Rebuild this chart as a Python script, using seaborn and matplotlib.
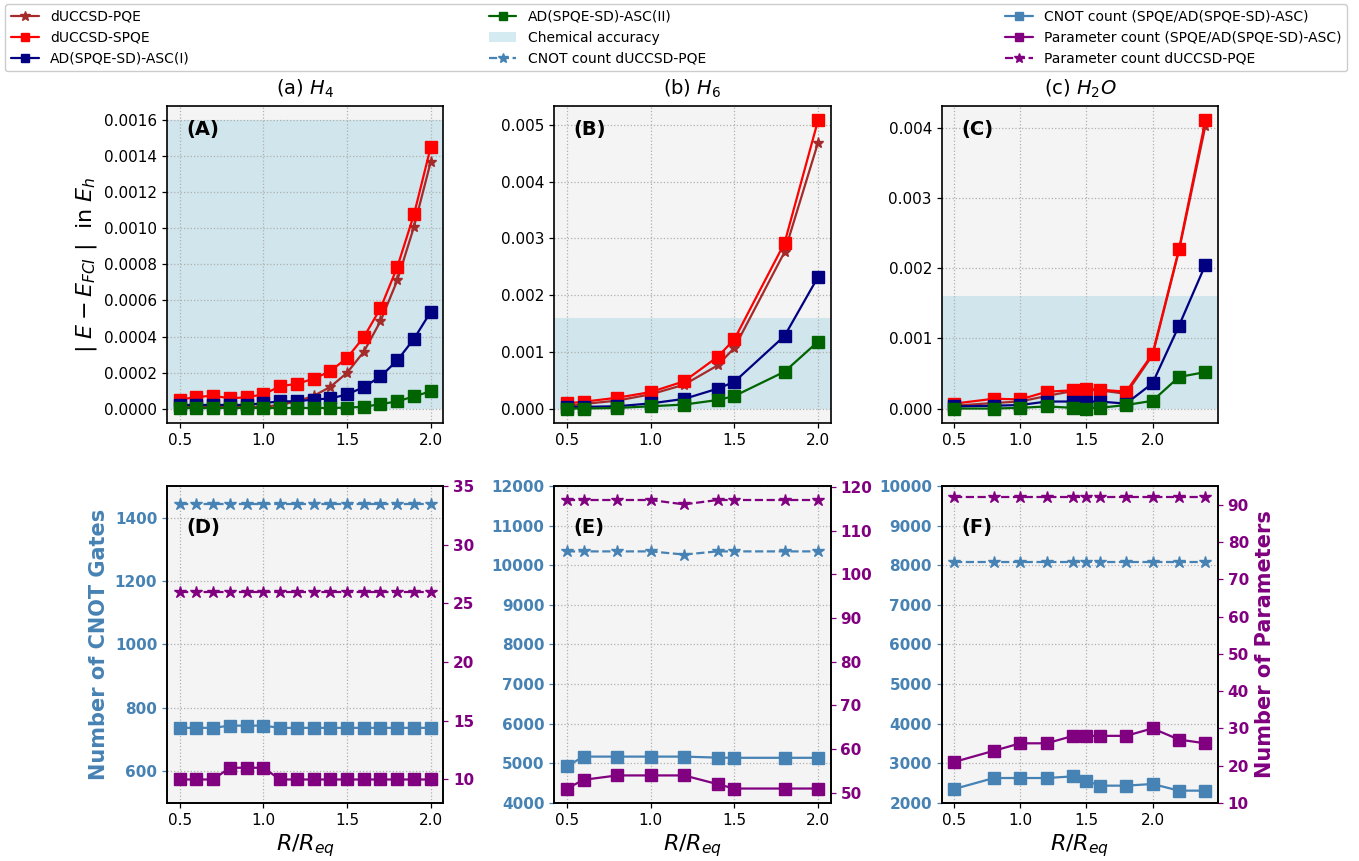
import matplotlib
matplotlib.use("Agg")
import matplotlib.pyplot as plt
import seaborn as sns
import numpy as np
from matplotlib.lines import Line2D
from matplotlib.patches import Patch

# ---------------- data ----------------
x_h4 = [0.5, 0.6, 0.7, 0.8, 0.9, 1.0, 1.1, 1.2, 1.3, 1.4, 1.5, 1.6, 1.7, 1.8, 1.9, 2.0]
h4_pqe = [0.00001, 0.00001, 0.00001, 0.00001, 0.00001, 0.00001, 0.00002, 0.00004,
          0.00007, 0.00012, 0.000198, 0.000315, 0.000485, 0.000711, 0.001009, 0.00137]
h4_spqe = [0.00005, 0.000063, 0.000072, 0.000056, 0.000063, 0.000078, 0.000124, 0.000137,
           0.000165, 0.000207, 0.000281, 0.000396, 0.000557, 0.000785, 0.001078, 0.001452]
h4_asc1 = [0.00002, 0.00002, 0.00002, 0.00002, 0.00002, 0.00003, 0.00004, 0.00004,
           0.00005, 0.000056, 0.000078, 0.000119, 0.000178, 0.000267, 0.000387, 0.000537]
h4_asc2 = [0.000003, 0.000003, 0.000003, 0.000003, 0.000003, 0.000003, 0.000003, 0.000003,
           0.000003, 0.000003, 0.000005, 0.00001, 0.000024, 0.00004, 0.000067, 0.000096]

x_h6 = [0.5, 0.6, 0.8, 1.0, 1.2, 1.4, 1.5, 1.8, 2.0]
h6_pqe = [0.00005, 0.00008, 0.00014, 0.00025, 0.00042, 0.00076, 0.00107, 0.00276, 0.00469]
h6_spqe = [0.00009, 0.00012, 0.00019, 0.00029, 0.00048, 0.00091, 0.00122, 0.00292, 0.00508]
h6_asc1 = [0.00003, 0.00003, 0.00004, 0.00009, 0.00017, 0.00035, 0.00047, 0.00128, 0.00232]
h6_asc2 = [0.0, 0.0, 0.00001, 0.00004, 0.00007, 0.00015, 0.00022, 0.00065, 0.00118]

x_h2o = [0.5, 0.8, 1.0, 1.2, 1.4, 1.5, 1.6, 1.8, 2.0, 2.2, 2.4]
h2o_pqe = [0.00004, 0.00008, 0.0001, 0.00018, 0.00025, 0.00027, 0.00026, 0.00021, 0.00076, 0.00225, 0.00403]
h2o_spqe = [0.00007, 0.00014, 0.00013, 0.00024, 0.00026, 0.00028, 0.00027, 0.00024, 0.00078, 0.00227, 0.00411]
h2o_asc1 = [0.00003, 0.00004, 0.00005, 0.0001, 0.0001, 0.0001, 0.0001, 0.00007, 0.00036, 0.00118, 0.00205]
h2o_asc2 = [0.0, 0.0, 0.00001, 0.00003, 0.00001, 0.0, 0.00001, 0.00005, 0.00011, 0.00045, 0.00052]

chem_acc = 0.0016

h4_cnot_pqe = [1442, 1442, 1442, 1442, 1442, 1442, 1442, 1442, 1442, 1442, 1442, 1442, 1442, 1442, 1442, 1442]
h4_cnot_spqe = [737, 737, 737, 744, 744, 744, 737, 737, 737, 737, 737, 737, 737, 737, 737, 737]
h4_par_pqe = [26, 26, 26, 26, 26, 26, 26, 26, 26, 26, 26, 26, 26, 26, 26, 26]
h4_par_spqe = [10, 10, 10, 11, 11, 11, 10, 10, 10, 10, 10, 10, 10, 10, 10, 10]

h6_cnot_pqe = [10350, 10350, 10350, 10350, 10270, 10350, 10350, 10350, 10350]
h6_cnot_spqe = [4930, 5170, 5170, 5170, 5170, 5145, 5140, 5140, 5140]
h6_par_pqe = [117, 117, 117, 117, 116, 117, 117, 117, 117]
h6_par_spqe = [51, 53, 54, 54, 54, 52, 51, 51, 51]

h2o_cnot_pqe = [8070, 8070, 8070, 8070, 8070, 8070, 8070, 8070, 8070, 8070, 8070]
h2o_cnot_spqe = [2353, 2630, 2630, 2630, 2672, 2563, 2437, 2437, 2479, 2311, 2311]
h2o_par_pqe = [92, 92, 92, 92, 92, 92, 92, 92, 92, 92, 92]
h2o_par_spqe = [21, 24, 26, 26, 28, 28, 28, 28, 30, 27, 26]

titles = ["(a) $H_4$", "(b) $H_6$", "(c) $H_2O$"]
top_tags = ["(A)", "(B)", "(C)"]
bot_tags = ["(D)", "(E)", "(F)"]

# ---------------- style ----------------
sns.set_theme(style="ticks")
plt.rcParams["font.family"] = ["DejaVu Sans"]
plt.rcParams.update({
    "axes.facecolor": "#f4f4f4",
    "axes.edgecolor": "black",
    "axes.linewidth": 1.2,
    "text.color": "black",
    "axes.labelcolor": "black",
    "xtick.color": "black",
    "ytick.color": "black",
    "xtick.labelsize": 11,
    "ytick.labelsize": 11,
    "xtick.major.size": 3.5,
    "ytick.major.size": 3.5,
    "xtick.major.width": 0.9,
    "ytick.major.width": 0.9,
    "xtick.major.pad": 3.5,
    "ytick.major.pad": 3.5,
})

C_PQE = "brown"
C_SPQE = "red"
C_ASC1 = "navy"
C_ASC2 = "darkgreen"
C_CNOT = "steelblue"
C_PAR = "purple"
C_CHEM = "lightblue"

fig, axes = plt.subplots(2, 3, figsize=(13.59, 8.61), dpi=100)
fig.subplots_adjust(left=0.1229, right=0.8962, top=0.8769, bottom=0.0674,
                    wspace=0.402, hspace=0.199)


def line(ax, x, y, color, marker, ls="-", ms=7, lw=1.6):
    sns.lineplot(x=x, y=y, ax=ax, color=color, marker=marker, linestyle=ls,
                 markersize=ms, linewidth=lw, mec=color, mew=1, legend=False)


top_data = [
    (x_h4, h4_pqe, h4_spqe, h4_asc1, h4_asc2),
    (x_h6, h6_pqe, h6_spqe, h6_asc1, h6_asc2),
    (x_h2o, h2o_pqe, h2o_spqe, h2o_asc1, h2o_asc2),
]
for i, (x, pqe, spqe, a1, a2) in enumerate(top_data):
    ax = axes[0, i]
    ax.axhspan(0, chem_acc, color=C_CHEM, alpha=0.5, lw=0, zorder=0)
    line(ax, x, pqe, C_PQE, "*", ms=8)
    line(ax, x, spqe, C_SPQE, "s", ms=8)
    line(ax, x, a1, C_ASC1, "s", ms=8)
    line(ax, x, a2, C_ASC2, "s", ms=8)
    ax.set_title(titles[i], fontsize=14, pad=8)
    ax.grid(True, linestyle=":", color="#b0b0b0", linewidth=0.9)
    ax.text(0.07, 0.955, top_tags[i], transform=ax.transAxes, fontsize=14,
            fontweight="bold", va="top", ha="left")
    ax.set_xticks([0.5, 1.0, 1.5, 2.0])
    ax.set_xlabel("")
    ax.set_ylabel("")

axes[0, 0].set_ylim(-0.00008, 0.00168)
axes[0, 0].set_yticks(np.arange(0, 0.00161, 0.0002))
axes[0, 0].yaxis.set_major_formatter(matplotlib.ticker.FormatStrFormatter("%.4f"))
axes[0, 1].set_yticks([0, 0.001, 0.002, 0.003, 0.004, 0.005])
axes[0, 1].yaxis.set_major_formatter(matplotlib.ticker.FormatStrFormatter("%.3f"))
axes[0, 2].set_yticks([0, 0.001, 0.002, 0.003, 0.004])
axes[0, 2].yaxis.set_major_formatter(matplotlib.ticker.FormatStrFormatter("%.3f"))
axes[0, 0].set_ylabel(r"$|\ E - E_{FCI}\ |$  in $E_h$", fontsize=16)

bot_data = [
    (x_h4, h4_cnot_pqe, h4_cnot_spqe, h4_par_pqe, h4_par_spqe,
     (500, 1500), [600, 800, 1000, 1200, 1400], (8, 35), [10, 15, 20, 25, 30, 35]),
    (x_h6, h6_cnot_pqe, h6_cnot_spqe, h6_par_pqe, h6_par_spqe,
     (4000, 12000), list(range(4000, 12001, 1000)), (47.7, 120.2), list(range(50, 121, 10))),
    (x_h2o, h2o_cnot_pqe, h2o_cnot_spqe, h2o_par_pqe, h2o_par_spqe,
     (2000, 10000), list(range(2000, 10001, 1000)), (10, 95), list(range(10, 91, 10))),
]
for i, (x, cp, cs, pp, ps, ylim, yt, ylim2, yt2) in enumerate(bot_data):
    ax = axes[1, i]
    ax2 = ax.twinx()
    line(ax, x, cp, C_CNOT, "*", ls="--", ms=9)
    line(ax, x, cs, C_CNOT, "s", ms=8)
    line(ax2, x, pp, C_PAR, "*", ls="--", ms=9)
    line(ax2, x, ps, C_PAR, "s", ms=8)
    ax.set_ylim(*ylim)
    ax.set_yticks(yt)
    ax2.set_ylim(*ylim2)
    ax2.set_yticks(yt2)
    ax.set_xticks([0.5, 1.0, 1.5, 2.0])
    ax.grid(True, linestyle=":", color="#b0b0b0", linewidth=0.9)
    ax.tick_params(axis="y", colors=C_CNOT, labelcolor=C_CNOT)
    ax2.tick_params(axis="y", colors=C_PAR, labelcolor=C_PAR)
    for lab in ax.get_yticklabels():
        lab.set_fontweight("bold")
    for lab in ax2.get_yticklabels():
        lab.set_fontweight("bold")
    for sp in ax2.spines.values():
        sp.set_color("black")
    ax.set_ylabel("")
    ax2.set_ylabel("")
    ax.set_xlabel(r"$R/R_{eq}$", fontsize=16, labelpad=3)
    ax.text(0.07, 0.9, bot_tags[i], transform=ax.transAxes, fontsize=14,
            fontweight="bold", va="top", ha="left", zorder=5)
    if i == 0:
        ax.set_ylabel("Number of CNOT Gates", fontsize=15, fontweight="bold",
                      color=C_CNOT)
    if i == 2:
        ax2.set_ylabel("Number of Parameters", fontsize=15, fontweight="bold",
                       color=C_PAR)

# ---------------- legend ----------------
LMS = 6
handles = [
    Line2D([], [], color=C_PQE, marker="*", ms=LMS + 1, lw=1.6),
    Line2D([], [], color=C_SPQE, marker="s", ms=LMS, lw=1.6),
    Line2D([], [], color=C_ASC1, marker="s", ms=LMS, lw=1.6),
    Line2D([], [], color=C_ASC2, marker="s", ms=LMS, lw=1.6),
    Patch(facecolor=C_CHEM, alpha=0.5, edgecolor="none"),
    Line2D([], [], color=C_CNOT, marker="*", ms=LMS + 1, lw=1.6, ls="--"),
    Line2D([], [], color=C_CNOT, marker="s", ms=LMS, lw=1.6),
    Line2D([], [], color=C_PAR, marker="s", ms=LMS, lw=1.6),
    Line2D([], [], color=C_PAR, marker="*", ms=LMS + 1, lw=1.6, ls="--"),
]
labels = [
    "dUCCSD-PQE", "dUCCSD-SPQE", "AD(SPQE-SD)-ASC(I)",
    "AD(SPQE-SD)-ASC(II)", "Chemical accuracy", "CNOT count dUCCSD-PQE",
    "CNOT count (SPQE/AD(SPQE-SD)-ASC)", "Parameter count (SPQE/AD(SPQE-SD)-ASC)",
    "Parameter count dUCCSD-PQE",
]
fig.legend(handles, labels, loc="upper left", ncol=3, mode="expand",
           bbox_to_anchor=(0.004, 0.995, 0.987, 0.0), fontsize=10,
           frameon=True, fancybox=True, facecolor="white", edgecolor="#cccccc",
           framealpha=1.0, borderaxespad=0.0)

fig.savefig("out.png", dpi=100)
